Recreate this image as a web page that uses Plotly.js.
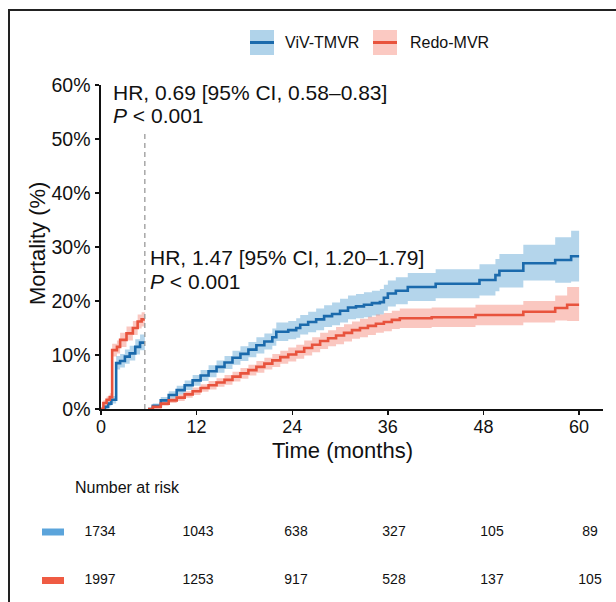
<!DOCTYPE html>
<html>
<head>
<meta charset="utf-8">
<script src="https://cdn.plot.ly/plotly-3.0.1.min.js"></script>
<style>html,body{margin:0;padding:0;background:#fff}#chart{width:616px;height:602px}</style>
</head>
<body>
<div id="chart"></div>
<script>
// ---------- data ----------
const landmark = 5.5;

// early period (0 to landmark)
const vivEarlyT  = [0, 0.5, 0.9, 1.3, 1.9, 2.4, 3.0, 3.6, 4.3, 4.9, 5.5];
const vivEarlyV  = [0, 0.4, 1.0, 1.7, 8.5, 8.9, 9.7, 10.3, 11.5, 12.3, 12.3];
const vivEarlyLo = [0, 0.1, 0.5, 1.0, 7.3, 7.7, 8.4, 9.0, 10.1, 10.9, 10.9];
const vivEarlyHi = [0, 0.8, 1.6, 2.4, 9.8, 10.2, 11.0, 11.7, 12.9, 13.8, 13.8];

const redoEarlyT  = [0, 0.3, 0.7, 1.1, 1.4, 2.0, 2.4, 3.2, 4.0, 4.6, 5.1, 5.5];
const redoEarlyV  = [0, 1.1, 1.7, 2.2, 10.9, 11.5, 12.8, 14.0, 15.0, 16.2, 16.6, 16.6];
const redoEarlyLo = [0, 0.6, 1.1, 1.5, 9.7, 10.3, 11.5, 12.7, 13.7, 14.9, 15.3, 15.3];
const redoEarlyHi = [0, 1.6, 2.3, 2.9, 12.1, 12.7, 14.1, 15.3, 16.3, 17.5, 17.9, 17.9];

// late period (after landmark)
const vivLateT  = [5.9, 6.5, 7.5, 8.5, 9.5, 10.5, 11.5, 12.5, 13.5, 14.5, 15.5, 16.5, 17.5, 18.5, 19.5, 20.5, 21.5, 22.0, 23.5, 24.5, 25.0, 26.0, 27.0, 28.0, 29.0, 30.0, 31.0, 32.0, 33.0, 34.0, 35.0, 35.5, 36.0, 37.0, 38.5, 42.0, 47.5, 49.5, 50.0, 53.0, 57.0, 59.0, 60.0];
const vivLateV  = [0, 0.6, 1.6, 2.6, 3.5, 4.4, 5.3, 6.2, 7.0, 7.8, 8.6, 9.5, 10.2, 11.0, 11.8, 12.5, 13.3, 14.3, 14.6, 15.0, 15.6, 16.1, 16.6, 17.2, 17.6, 18.2, 18.8, 19.0, 19.3, 19.6, 19.8, 20.6, 21.4, 21.9, 22.6, 23.2, 23.9, 24.8, 25.6, 27.0, 27.6, 28.3, 28.3];
const vivLateLo = [0, 0.2, 1.0, 1.9, 2.7, 3.5, 4.3, 5.2, 5.9, 6.7, 7.4, 8.2, 8.9, 9.6, 10.3, 11.0, 11.7, 12.6, 12.9, 13.2, 13.8, 14.2, 14.6, 15.2, 15.5, 16.0, 16.6, 16.8, 17.0, 17.3, 17.5, 18.2, 19.0, 19.4, 20.0, 20.5, 21.0, 21.8, 22.5, 23.8, 23.4, 23.6, 23.6];
const vivLateHi = [0, 1.0, 2.2, 3.3, 4.3, 5.3, 6.3, 7.2, 8.1, 9.0, 9.8, 10.8, 11.6, 12.4, 13.3, 14.0, 14.9, 16.0, 16.3, 16.8, 17.4, 18.0, 18.6, 19.2, 19.7, 20.4, 21.0, 21.3, 21.6, 21.9, 22.2, 23.0, 23.8, 24.4, 25.2, 25.9, 26.8, 27.8, 28.7, 30.4, 31.8, 33.0, 33.0];

const redoLateT  = [5.9, 6.5, 7.5, 8.5, 9.5, 10.5, 11.5, 12.5, 13.5, 14.5, 15.5, 16.5, 17.5, 18.5, 19.5, 20.5, 21.5, 22.5, 23.5, 24.5, 25.5, 26.5, 27.5, 28.5, 29.5, 30.5, 31.5, 32.5, 33.5, 34.5, 35.5, 36.5, 37.5, 41.5, 47.0, 53.0, 57.0, 58.5, 60.0];
const redoLateV  = [0, 0.4, 1.0, 1.6, 2.1, 2.7, 3.3, 3.9, 4.4, 4.9, 5.4, 6.0, 6.6, 7.2, 7.8, 8.4, 9.0, 9.6, 10.1, 10.6, 11.3, 11.9, 12.6, 13.1, 13.6, 14.1, 14.6, 15.0, 15.4, 15.8, 16.1, 16.5, 16.8, 17.0, 17.4, 18.0, 18.7, 19.3, 19.3];
const redoLateLo = [0, 0.1, 0.6, 1.1, 1.5, 2.1, 2.6, 3.2, 3.6, 4.1, 4.5, 5.1, 5.6, 6.2, 6.7, 7.3, 7.8, 8.4, 8.8, 9.3, 9.9, 10.5, 11.1, 11.6, 12.0, 12.5, 13.0, 13.3, 13.7, 14.1, 14.4, 14.8, 15.0, 15.2, 15.5, 16.0, 16.4, 16.3, 16.3];
const redoLateHi = [0, 0.7, 1.4, 2.1, 2.7, 3.3, 4.0, 4.6, 5.2, 5.7, 6.3, 6.9, 7.6, 8.2, 8.9, 9.5, 10.2, 10.8, 11.4, 11.9, 12.7, 13.3, 14.1, 14.6, 15.2, 15.7, 16.2, 16.7, 17.1, 17.5, 17.8, 18.2, 18.6, 18.8, 19.3, 20.0, 21.0, 22.6, 22.6];

// axis ticks
const xTickVals = [0, 12, 24, 36, 48, 60];
const yTickVals = [0, 10, 20, 30, 40, 50, 60];
const yTickText = ['0%', '10%', '20%', '30%', '40%', '50%', '60%'];

// risk table
const riskTimes = [0, 12, 24, 36, 48, 60];
const riskViv   = [1734, 1043, 638, 327, 105, 89];
const riskRedo  = [1997, 1253, 917, 528, 137, 105];

const groupNames = ['ViV-TMVR', 'Redo-MVR'];
const hrEarly = 'HR, 0.69 [95% CI, 0.58\u20130.83]';
const hrLate  = 'HR, 1.47 [95% CI, 1.20\u20131.79]';
const pText   = '<i>P</i> < 0.001';

// ---------- style ----------
const W = 616, H = 602;
const px = v => v / W;
const py = v => 1 - v / H;
const FONT = 'Liberation Sans, Arial, sans-serif';
const blueLine = '#1b6aac', blueBand = 'rgba(112,174,216,0.52)';
const redLine  = '#e8533d', redBand  = 'rgba(244,130,115,0.45)';

function band(t, lo, hi, color) {
  return [
    {x: t, y: lo, mode: 'lines', line: {width: 0, shape: 'hv'}, hoverinfo: 'skip', showlegend: false},
    {x: t, y: hi, mode: 'lines', line: {width: 0, shape: 'hv'}, fill: 'tonexty', fillcolor: color, hoverinfo: 'skip', showlegend: false}
  ];
}
function line(t, v, color) {
  return {x: t, y: v, mode: 'lines', line: {color: color, width: 2.6, shape: 'hv'}, showlegend: false};
}

const traces = [
  ...band(vivEarlyT, vivEarlyLo, vivEarlyHi, blueBand),
  ...band(redoEarlyT, redoEarlyLo, redoEarlyHi, redBand),
  ...band(vivLateT, vivLateLo, vivLateHi, blueBand),
  ...band(redoLateT, redoLateLo, redoLateHi, redBand),
  line(vivEarlyT, vivEarlyV, blueLine),
  line(redoEarlyT, redoEarlyV, redLine),
  line(vivLateT, vivLateV, blueLine),
  line(redoLateT, redoLateV, redLine),
  // landmark dashed line
  {x: [landmark, landmark], y: [0, 51], mode: 'lines', line: {color: '#9a9a9a', width: 1.3, dash: '5px,4px'}, showlegend: false, hoverinfo: 'skip'},
  // risk table
  {x: riskTimes, y: riskViv.map(() => 1), text: riskViv.map(String), mode: 'text', xaxis: 'x2', yaxis: 'y2',
   textfont: {family: FONT, size: 14, color: '#111'}, textposition: 'middle center', cliponaxis: false, showlegend: false, hoverinfo: 'skip'},
  {x: riskTimes, y: riskRedo.map(() => 0), text: riskRedo.map(String), mode: 'text', xaxis: 'x2', yaxis: 'y2',
   textfont: {family: FONT, size: 14, color: '#111'}, textposition: 'middle center', cliponaxis: false, showlegend: false, hoverinfo: 'skip'}
];

const axisCommon = {
  showline: true, linecolor: '#111', linewidth: 1.6, ticks: 'outside', ticklen: 4, tickwidth: 1.4, tickcolor: '#111',
  showgrid: false, zeroline: false, fixedrange: true
};

const layout = {
  width: W, height: H,
  margin: {l: 0, r: 0, t: 0, b: 0},
  paper_bgcolor: '#fff', plot_bgcolor: '#fff',
  showlegend: false,
  xaxis: Object.assign({}, axisCommon, {domain: [px(101), px(603)], range: [0, 63], tickmode: 'array', tickvals: xTickVals,
    tickfont: {family: FONT, size: 18, color: '#111'}, ticklabelstandoff: -3, anchor: 'y'}),
  yaxis: Object.assign({}, axisCommon, {domain: [1 - 409 / H, 1 - 85 / H], range: [0, 60], tickmode: 'array', tickvals: yTickVals, ticktext: yTickText,
    tickfont: {family: FONT, size: 19.5, color: '#111'}, anchor: 'x', ticklabelstandoff: 1}),
  xaxis2: {domain: [px(100), px(590)], range: [0, 60], visible: false, anchor: 'y2', fixedrange: true},
  yaxis2: {domain: [1 - 580 / H, 1 - 532 / H], range: [0, 1], visible: false, anchor: 'x2', fixedrange: true},
  shapes: [
    // outer frame
    {type: 'rect', xref: 'paper', yref: 'paper', x0: px(9), x1: 1.2, y0: -0.2, y1: py(10), line: {color: '#222', width: 2}},
    // legend keys
    {type: 'rect', xref: 'paper', yref: 'paper', x0: px(250), x1: px(274), y0: py(55), y1: py(30), fillcolor: '#b0d3ea', line: {width: 0}},
    {type: 'line', xref: 'paper', yref: 'paper', x0: px(250), x1: px(274), y0: py(42.5), y1: py(42.5), line: {color: blueLine, width: 3}},
    {type: 'rect', xref: 'paper', yref: 'paper', x0: px(373), x1: px(397), y0: py(55), y1: py(30), fillcolor: '#fbc9c2', line: {width: 0}},
    {type: 'line', xref: 'paper', yref: 'paper', x0: px(373), x1: px(397), y0: py(42.5), y1: py(42.5), line: {color: redLine, width: 3}},
    // risk table swatches
    {type: 'rect', xref: 'paper', yref: 'paper', x0: px(42), x1: px(64), y0: py(535.5), y1: py(528.5), fillcolor: '#5ba4db', line: {width: 0}},
    {type: 'rect', xref: 'paper', yref: 'paper', x0: px(42), x1: px(64), y0: py(584), y1: py(577), fillcolor: '#ef5b43', line: {width: 0}}
  ],
  annotations: [
    {xref: 'x', yref: 'y', x: 1.3, y: 58.6, text: hrEarly, showarrow: false, xanchor: 'left', yanchor: 'middle', font: {family: FONT, size: 21, color: '#111'}},
    {xref: 'x', yref: 'y', x: 1.3, y: 54.3, text: pText, showarrow: false, xanchor: 'left', yanchor: 'middle', font: {family: FONT, size: 21, color: '#111'}},
    {xref: 'x', yref: 'y', x: 5.9, y: 28.0, text: hrLate, showarrow: false, xanchor: 'left', yanchor: 'middle', font: {family: FONT, size: 21, color: '#111'}},
    {xref: 'x', yref: 'y', x: 5.9, y: 23.6, text: pText, showarrow: false, xanchor: 'left', yanchor: 'middle', font: {family: FONT, size: 21, color: '#111'}},
    // axis titles
    {xref: 'paper', yref: 'paper', x: px(342.5), y: py(450), text: 'Time (months)', showarrow: false, xanchor: 'center', yanchor: 'middle', font: {family: FONT, size: 22, color: '#111'}},
    {xref: 'paper', yref: 'paper', x: px(37), y: py(244), text: 'Mortality (%)', textangle: -90, showarrow: false, xanchor: 'center', yanchor: 'middle', font: {family: FONT, size: 22, color: '#111'}},
    // legend labels
    {xref: 'paper', yref: 'paper', x: px(283), y: py(42.5), text: groupNames[0], showarrow: false, xanchor: 'left', yanchor: 'middle', font: {family: FONT, size: 16, color: '#111'}},
    {xref: 'paper', yref: 'paper', x: px(408), y: py(42.5), text: groupNames[1], showarrow: false, xanchor: 'left', yanchor: 'middle', font: {family: FONT, size: 16, color: '#111'}},
    // risk table header
    {xref: 'paper', yref: 'paper', x: px(73), y: py(487), text: 'Number at risk', showarrow: false, xanchor: 'left', yanchor: 'middle', font: {family: FONT, size: 16, color: '#111'}}
  ]
};

Plotly.newPlot('chart', traces, layout, {displayModeBar: false, staticPlot: true});
</script>
</body>
</html>
